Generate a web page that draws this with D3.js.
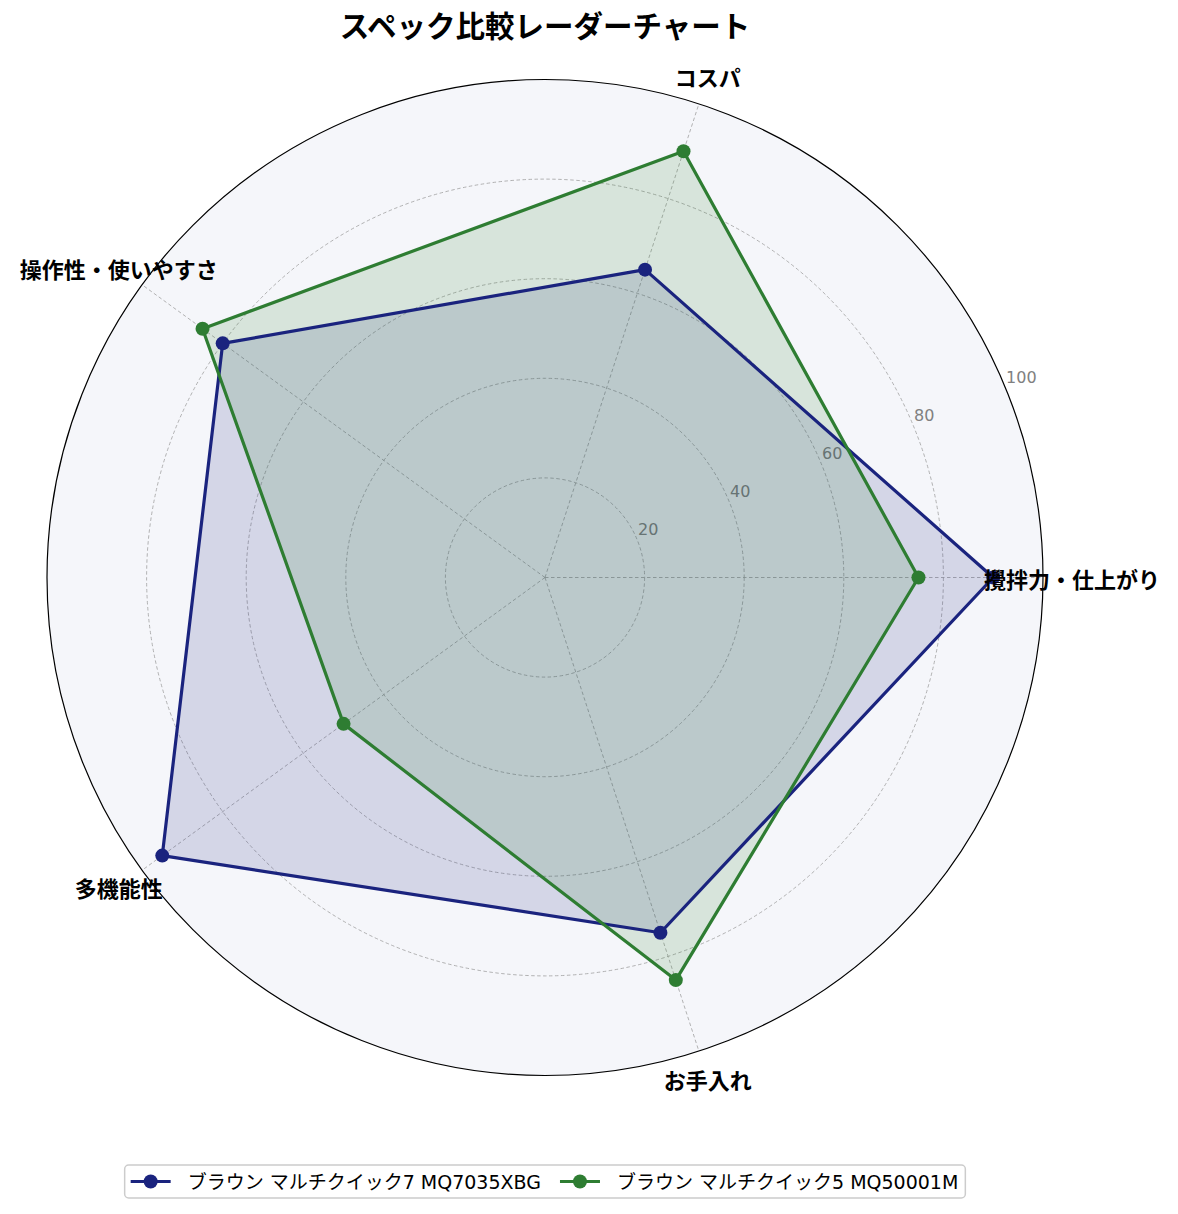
<!DOCTYPE html>
<html>
<head>
<meta charset="utf-8">
<script src="https://cdn.jsdelivr.net/npm/d3@7"></script>
<style>
  body { margin: 0; background: #fff; }
  svg { font-family: "Noto Sans CJK JP", "Noto Sans", sans-serif; }
</style>
</head>
<body>
<div id="chartDiv"></div>
<script>
// categories (counter-clockwise from 3 o'clock)
var categories = ["攪拌力・仕上がり", "コスパ", "操作性・使いやすさ", "多機能性", "お手入れ"];
var seriesNames = ["ブラウン マルチクイック7 MQ7035XBG", "ブラウン マルチクイック5 MQ50001M"];
var mq7035 = [90, 65, 80, 95, 75];
var mq50001 = [75, 90, 85, 50, 85];
var radialTicks = [20, 40, 60, 80, 100];
var seriesColors = ["#1a237e", "#2e7d32"];

var width = 1178, height = 1214;
var cx = 545, cy = 577.5, R = 498;
var latinFont = "'DejaVu Sans', 'Noto Sans CJK JP', sans-serif";
var markerR = 7;

var svg = d3.select("#chartDiv").append("svg")
    .attr("width", width)
    .attr("height", height);

var r = d3.scaleLinear().domain([0, 100]).range([0, R]);

// angle of category i, d3 convention (clockwise from 12 o'clock)
var angle = d3.scaleLinear().domain([0, categories.length]).range([Math.PI / 2, Math.PI / 2 - 2 * Math.PI]);

function px(i, v) { return Math.sin(angle(i)) * r(v); }
function py(i, v) { return -Math.cos(angle(i)) * r(v); }

var g = svg.append("g").attr("transform", "translate(" + cx + "," + cy + ")");

// background disc
g.append("circle").attr("r", r(100)).style("fill", "#f5f6fa");

// dashed grid circles
g.selectAll(".gridCircle")
    .data(radialTicks.filter(function (d) { return d < 100 }))
    .enter().append("circle")
    .attr("class", "gridCircle")
    .attr("r", function (d) { return r(d) })
    .style("fill", "none")
    .style("stroke", "#a0a0a0")
    .style("stroke-width", 0.8)
    .style("stroke-dasharray", "3.5,2.5");

// spokes
g.selectAll(".spoke")
    .data(categories)
    .enter().append("line")
    .attr("class", "spoke")
    .attr("x1", 0).attr("y1", 0)
    .attr("x2", function (d, i) { return px(i, 100) })
    .attr("y2", function (d, i) { return py(i, 100) })
    .style("stroke", "#a0a0a0")
    .style("stroke-width", 0.8)
    .style("stroke-dasharray", "3.5,2.5");

// outer circle
g.append("circle").attr("r", r(100))
    .style("fill", "none").style("stroke", "#000").style("stroke-width", 1.2);

// radial tick labels at 22.5 deg
var rlabAngle = 22.5 * Math.PI / 180;
g.selectAll(".rTick")
    .data(radialTicks)
    .enter().append("text")
    .attr("class", "rTick")
    .attr("x", function (d) { return Math.cos(rlabAngle) * r(d) + 1 })
    .attr("y", function (d) { return -Math.sin(rlabAngle) * r(d) - 4 })
    .text(function (d) { return d })
    .style("font-family", latinFont)
    .style("font-size", "16px")
    .style("fill", "#808080");

var radarLine = d3.lineRadial()
    .angle(function (d, i) { return angle(i) })
    .radius(function (d) { return r(d) })
    .curve(d3.curveLinearClosed);

var allSeries = [mq7035, mq50001];

allSeries.forEach(function (vals, s) {
    g.append("path")
        .attr("d", radarLine(vals))
        .style("fill", seriesColors[s])
        .style("fill-opacity", 0.15)
        .style("stroke", "none");
});

allSeries.forEach(function (vals, s) {
    g.append("path")
        .attr("d", radarLine(vals))
        .style("fill", "none")
        .style("stroke", seriesColors[s])
        .style("stroke-width", 3.2)
        .style("stroke-linejoin", "round");

    g.selectAll(".pt" + s)
        .data(vals)
        .enter().append("circle")
        .attr("class", "pt" + s)
        .attr("cx", function (d, i) { return px(i, d) })
        .attr("cy", function (d, i) { return py(i, d) })
        .attr("r", markerR)
        .style("fill", seriesColors[s]);
});

// category labels
g.selectAll(".catLabel")
    .data(categories)
    .enter().append("text")
    .attr("class", "catLabel")
    .attr("x", function (d, i) { return px(i, 105.8) })
    .attr("y", function (d, i) { return py(i, 105.8) })
    .attr("text-anchor", "middle")
    .attr("dominant-baseline", "central")
    .text(function (d) { return d })
    .style("font-size", "22px")
    .style("font-weight", "bold")
    .style("fill", "#000");

// title
svg.append("text")
    .attr("x", cx)
    .attr("y", 37)
    .attr("text-anchor", "middle")
    .text("スペック比較レーダーチャート")
    .style("font-size", "29.5px")
    .style("font-weight", "bold");

// legend
var legend = svg.append("g").attr("transform", "translate(0,1181.5)");
var legendBox = legend.append("rect")
    .attr("y", -16.5).attr("height", 33)
    .attr("rx", 4)
    .style("fill", "#fff")
    .style("stroke", "#cccccc")
    .style("stroke-width", 1.5);

var xPos = 0;
var items = legend.selectAll(".legItem")
    .data(seriesNames)
    .enter().append("g")
    .attr("class", "legItem");

items.append("line")
    .attr("x1", 0).attr("x2", 40).attr("y1", 0).attr("y2", 0)
    .style("stroke", function (d, i) { return seriesColors[i] })
    .style("stroke-width", 3.2);
items.append("circle")
    .attr("cx", 20).attr("r", markerR)
    .style("fill", function (d, i) { return seriesColors[i] });
items.append("text")
    .attr("x", 57)
    .attr("y", 7)
    .text(function (d) { return d })
    .style("font-family", latinFont)
    .style("font-size", "19px");

var widths = [];
items.each(function () { widths.push(this.getBBox().width) });
var gap = 19, padL = 6, padR = 7;
var total = padL + d3.sum(widths) + gap * (widths.length - 1) + padR;
var left = cx - total / 2;
xPos = left + padL;
items.attr("transform", function (d, i) {
    var t = "translate(" + xPos + ",0)";
    xPos += widths[i] + gap;
    return t;
});
legendBox.attr("x", left).attr("width", total);
</script>
</body>
</html>
